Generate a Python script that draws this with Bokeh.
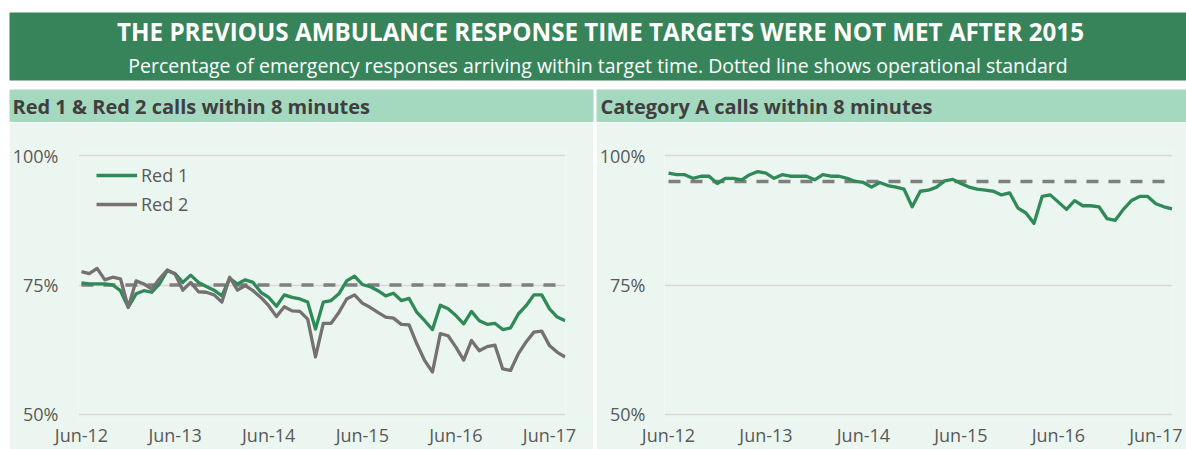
from bokeh.plotting import figure
from bokeh.models import Range1d, FixedTicker, Legend, LegendItem, ColumnDataSource, Spacer
from bokeh.layouts import column, row
from bokeh.embed import file_html
from bokeh.resources import INLINE
from bokeh.core.properties import value

# ---------------- data ----------------
title_text = "THE PREVIOUS AMBULANCE RESPONSE TIME TARGETS WERE NOT MET AFTER 2015"
subtitle_text = ("Percentage of emergency responses arriving within target time. "
                 "Dotted line shows operational standard")
panel_titles = ["Red 1 & Red 2 calls within 8 minutes", "Category A calls within 8 minutes"]
series_names = ["Red 1", "Red 2"]

x_tick_labels = ["Jun-12", "Jun-13", "Jun-14", "Jun-15", "Jun-16", "Jun-17"]
y_ticks = [50, 75, 100]
y_tick_labels = ["50%", "75%", "100%"]

red1 = [75.4, 75.2, 75.2, 75.2, 75.0, 73.9, 70.7, 73.3, 73.9, 73.6,
        75.2, 77.8, 77.2, 75.5, 76.9, 75.5, 74.7, 74.0, 72.9, 76.3,
        75.2, 76.0, 75.5, 73.6, 72.6, 70.9, 73.1, 72.6, 72.3, 71.7,
        66.5, 71.7, 72.0, 73.3, 75.8, 76.7, 75.1, 74.7, 73.9, 72.9,
        73.4, 72.0, 72.4, 69.7, 68.1, 66.4, 71.1, 70.4, 69.1, 67.5,
        69.9, 68.1, 67.4, 67.6, 66.4, 66.7, 69.4, 71.0, 73.1, 73.1,
        70.4, 68.8, 68.1]
red2 = [77.6, 77.2, 78.2, 76.0, 76.5, 76.2, 70.7, 75.8, 75.2, 74.2,
        76.2, 77.9, 77.1, 74.0, 75.5, 73.7, 73.6, 73.1, 71.7, 76.5,
        74.0, 74.9, 73.9, 72.6, 71.0, 68.9, 70.8, 70.0, 69.9, 68.4,
        61.1, 67.6, 67.6, 69.7, 72.3, 73.1, 71.5, 70.7, 69.7, 68.8,
        68.6, 67.4, 67.3, 63.6, 60.4, 58.2, 65.6, 65.2, 63.0, 60.5,
        64.3, 62.3, 63.1, 63.4, 58.8, 58.5, 61.7, 64.0, 65.9, 66.1,
        63.3, 62.0, 61.1]
cat_a = [96.6, 96.3, 96.3, 95.6, 96.0, 96.0, 94.6, 95.6, 95.6, 95.3,
         96.3, 96.9, 96.6, 95.6, 96.3, 96.0, 96.0, 96.0, 95.3, 96.3,
         96.0, 96.0, 95.6, 95.0, 94.8, 93.9, 94.8, 94.2, 93.9, 93.5,
         90.1, 93.1, 93.3, 93.9, 95.1, 95.4, 94.6, 93.9, 93.5, 93.3,
         93.1, 92.4, 92.8, 89.9, 88.9, 86.9, 92.1, 92.4, 91.0, 89.6,
         91.3, 90.3, 90.3, 90.1, 87.8, 87.5, 89.6, 91.3, 92.1, 92.1,
         90.7, 90.1, 89.7]
red_target = 75
cat_a_target = 95

# ---------------- styling ----------------
FONT_NAME = "Open Sans"
FONT = value(FONT_NAME)
BANNER = "#37845A"
STRIP = "#A4D9BF"
BG = "#ECF6F0"
GREEN = "#2F8A57"
GREY = "#767171"
DASH = "#7F7F7F"
GRIDC = "#D9D9D9"
TXT = "#595959"

W = 1186
TOP_H = 122
PANEL_H = 327

months = list(range(len(red1)))
tick_pos = months[::12][:len(x_tick_labels)]

# ---------------- banner + panel header strips ----------------
top = figure(width=W, height=TOP_H, x_range=Range1d(0, W), y_range=Range1d(0, TOP_H),
             toolbar_location=None, output_backend="svg", min_border=0,
             x_axis_location=None, y_axis_location=None)
top.grid.visible = False
top.outline_line_color = None
top.background_fill_color = "white"
top.border_fill_color = "white"
top.quad(left=[9], right=[W], bottom=[42], top=[110], color=BANNER, line_color=None)
top.quad(left=[9, 596], right=[593, W], bottom=[0, 0], top=[33, 33], color=STRIP, line_color=None)
top.text(x=[600], y=[91], text=[title_text], text_align="center", text_baseline="middle",
         text_font=FONT, text_font_style="bold", text_font_size="24.2px", text_color="white")
top.text(x=[597.5], y=[57.5], text=[subtitle_text], text_align="center", text_baseline="middle",
         text_font=FONT, text_font_size="19.5px", text_color="white")
top.text(x=[12, 600], y=[16.5, 16.5], text=panel_titles, text_align="left", text_baseline="middle",
         text_font=FONT, text_font_style="bold", text_font_size="20px", text_color="#3F3F3F")


def make_panel(width, b_left, b_right, x_start, y_standoff):
    p = figure(width=width, height=PANEL_H,
               x_range=Range1d(x_start, len(months) - 1 + 0.05),
               y_range=Range1d(49.03, 100.97),
               toolbar_location=None, output_backend="svg",
               min_border_left=b_left, min_border_right=b_right,
               min_border_top=28, min_border_bottom=30)
    p.background_fill_color = BG
    p.border_fill_color = BG
    p.outline_line_color = None
    p.xgrid.visible = False
    p.ygrid.grid_line_color = GRIDC
    p.ygrid.grid_line_width = 1.3

    p.yaxis.ticker = FixedTicker(ticks=y_ticks)
    p.yaxis.major_label_overrides = {t: l for t, l in zip(y_ticks, y_tick_labels)}
    p.yaxis.major_label_standoff = y_standoff
    p.xaxis.ticker = FixedTicker(ticks=tick_pos)
    p.xaxis.major_label_overrides = {t: l for t, l in zip(tick_pos, x_tick_labels)}
    p.xaxis.major_label_standoff = 3
    for ax in (p.xaxis, p.yaxis):
        ax.axis_line_color = None
        ax.major_tick_line_color = None
        ax.minor_tick_line_color = None
        ax.major_tick_out = 0
        ax.major_tick_in = 0
        ax.major_label_text_font = FONT_NAME
        ax.major_label_text_font_size = "18px"
        ax.major_label_text_color = TXT
    return p


# ---------------- left panel ----------------
left = make_panel(584, 65, 28, -0.38, 20)
src_l = ColumnDataSource(dict(month=months, red1=red1, red2=red2,
                              target=[red_target] * len(months)))
left.line("month", "target", source=src_l, line_color=DASH, line_width=3.5, line_dash="12 10")
r1 = left.line("month", "red1", source=src_l, line_color=GREEN, line_width=3.3, line_join="round")
r2 = left.line("month", "red2", source=src_l, line_color=GREY, line_width=3.3, line_join="round")
legend = Legend(items=[LegendItem(label=series_names[0], renderers=[r1]),
                       LegendItem(label=series_names[1], renderers=[r2])],
                location=(18, 203), padding=0, margin=0, spacing=5,
                glyph_width=41, glyph_height=20, label_height=20, label_standoff=4,
                label_text_font=FONT_NAME, label_text_font_size="18px", label_text_color=TXT,
                background_fill_alpha=0, border_line_color=None)
left.add_layout(legend)

# ---------------- right panel ----------------
right = make_panel(590, 65, 14, -0.49, 19)
src_r = ColumnDataSource(dict(month=months, cat_a=cat_a,
                              target=[cat_a_target] * len(months)))
right.line("month", "target", source=src_r, line_color=DASH, line_width=3.5, line_dash="12 10")
right.line("month", "cat_a", source=src_r, line_color=GREEN, line_width=3.3, line_join="round")

layout = column(top, row(Spacer(width=9, height=PANEL_H), left, Spacer(width=3, height=PANEL_H), right),
                spacing=0)
open("out.html", "w").write(file_html(layout, INLINE))
